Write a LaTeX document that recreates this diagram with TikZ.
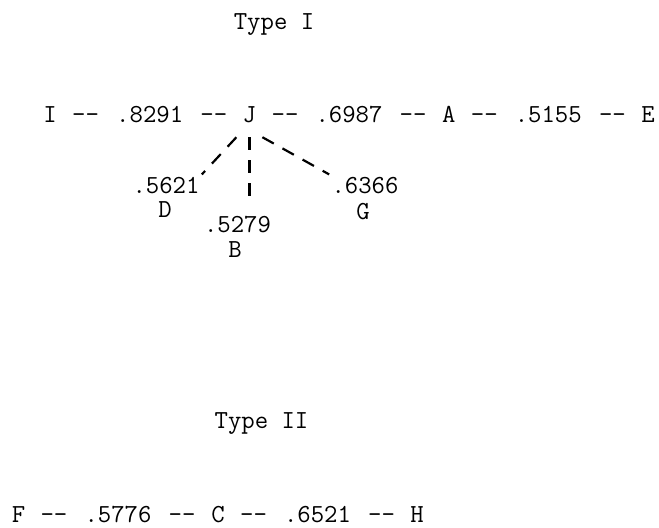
\documentclass[tikz,border=0pt]{standalone}
\usepackage{tikz}

\tikzset{
  tw/.style={font=\fontsize{13}{15}\selectfont\ttfamily, inner sep=0pt, anchor=base},
  link/.style={dash pattern=on 6.5pt off 5pt, line width=1.1pt},
}

\begin{document}
\begin{tikzpicture}[x=0.5pt, y=-0.5pt]
    \useasboundingbox (0,0) rectangle (659,527);
    % Type I
    \node[tw] (typeI) at (274,29) {Type I};
    \node[tw] (I) at (50,122.5) {I};
    \node[tw] (dIa) at (85.6,122.5) {-{}-};
    \node[tw] (v8291) at (149.7,122.5) {.8291};
    \node[tw] (dIb) at (213.8,122.5) {-{}-};
    \node[tw, inner sep=7pt] (J) at (249.4,122.5) {J};
    \node[tw] (dIc) at (285,122.5) {-{}-};
    \node[tw] (v6987) at (349,122.5) {.6987};
    \node[tw] (dId) at (413,122.5) {-{}-};
    \node[tw] (A) at (448.7,122.5) {A};
    \node[tw] (dIe) at (484.3,122.5) {-{}-};
    \node[tw] (v5155) at (548.3,122.5) {.5155};
    \node[tw] (dIf) at (612.4,122.5) {-{}-};
    \node[tw] (E) at (648,122.5) {E};
    % branches below J
    \node[tw, inner sep=1pt] (v5621) at (166,193) {.5621};
    \node[tw] (D) at (165,217) {D};
    \node[tw, inner sep=1pt] (v5279) at (237.5,232) {.5279};
    \node[tw] (B) at (235,257) {B};
    \node[tw, inner sep=1pt] (v6366) at (365,193) {.6366};
    \node[tw] (G) at (363,219) {G};
    \draw[link] (J.-120) -- (v5621.north east);
    \draw[link, shorten >=6pt] (J.-90) -- (J.-90 |- v5279.north);
    \draw[link] (J.-60) -- (v6366.north west);
    % Type II
    \node[tw] (typeII) at (261.5,428) {Type II};
    \node[tw] (F) at (18.5,522) {F};
    \node[tw] (dIIa) at (54,522) {-{}-};
    \node[tw] (v5776) at (118,522) {.5776};
    \node[tw] (dIIb) at (182,522) {-{}-};
    \node[tw] (C) at (218,522) {C};
    \node[tw] (dIIc) at (253.5,522) {-{}-};
    \node[tw] (v6521) at (317.5,522) {.6521};
    \node[tw] (dIId) at (381.6,522) {-{}-};
    \node[tw] (H) at (417,522) {H};
\end{tikzpicture}
\end{document}
